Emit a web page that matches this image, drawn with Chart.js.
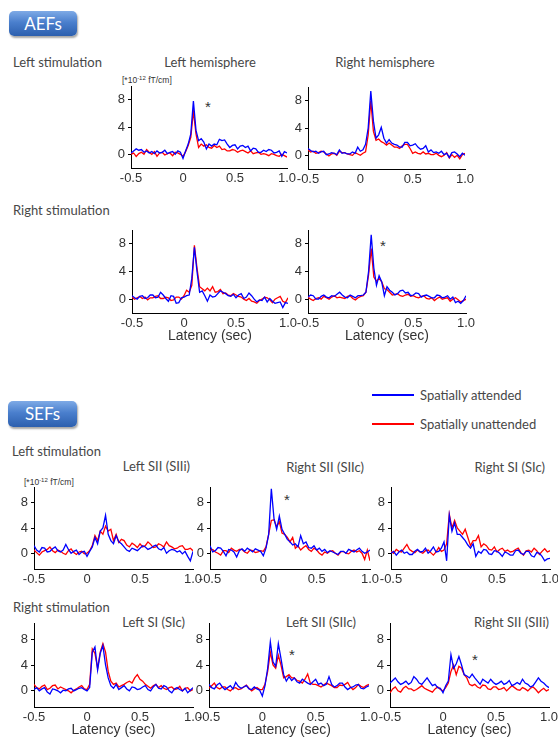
<!DOCTYPE html>
<html>
<head>
<meta charset="utf-8">
<script src="https://cdn.jsdelivr.net/npm/chart.js@4.4.1/dist/chart.umd.min.js"></script>
<style>
  body { margin: 0; background: #fff; }
  #page { position: relative; width: 558px; height: 739px; overflow: hidden; font-family: Lato, "Noto Sans", sans-serif; color: #474747; }
  #page canvas { position: absolute; }
  .lbl { position: absolute; white-space: nowrap; font-size: 13px; line-height: 1; }
  .unit { font-family: "Liberation Sans", Arial, sans-serif; font-size: 8.5px; color: #333; }
  .unit sup { font-size: 6px; vertical-align: 3px; }
  .star { font-family: "Liberation Sans", Arial, sans-serif; font-size: 15px; color: #333; }
  .badge { position: absolute; border-radius: 5px; color: #fff; font-size: 17px; text-align: center;
           background: linear-gradient(#7eaae6, #4a7fcd 45%, #2c5fae); box-shadow: 1px 2px 2px rgba(0,0,0,0.35); }
  .key { position: absolute; height: 2px; }
</style>
</head>
<body>
<div id="page">
  <div class="badge" style="left:9px;top:11px;width:68px;height:25px;line-height:25px;">AEFs</div>
  <div class="badge" style="left:8px;top:401px;width:69px;height:26px;line-height:26px;">SEFs</div>
  <div class="key" style="left:372px;top:394px;width:42px;background:#0000ff;"></div>
  <div class="key" style="left:372px;top:423px;width:42px;background:#ff0000;"></div>
</div>
<script>
// latency axis (sec), shared by every trace
const latency = [-0.5, -0.475, -0.45, -0.425, -0.4, -0.375, -0.35, -0.325, -0.3, -0.275,
  -0.25, -0.225, -0.2, -0.175, -0.15, -0.125, -0.1, -0.075, -0.05, -0.025,
  0, 0.025, 0.05, 0.075, 0.1, 0.125, 0.15, 0.175, 0.2, 0.225,
  0.25, 0.275, 0.3, 0.325, 0.35, 0.375, 0.4, 0.425, 0.45, 0.475,
  0.5, 0.525, 0.55, 0.575, 0.6, 0.625, 0.65, 0.675, 0.7, 0.725,
  0.75, 0.775, 0.8, 0.825, 0.85, 0.875, 0.9, 0.925, 0.95, 0.975, 1.0];

const xTicks = [-0.5, 0, 0.5, 1.0];
const yTicks = [0, 2, 4, 6, 8, 10];
const yLabels = [0, 4, 8];

// AEFs, left stimulation, left hemisphere
const aefLeftStimLeftAtt = [0.2, 0.5, 0.8, 0.6, 0.7, 0.3, 0.5, 0.2, 0.4, 0.1,
  0.5, 0.2, 0.3, 0.6, 0.1, 0.3, 0.4, 0.0, 0.5, 0.3,
  -0.6, 0.5, 1.5, 3.0, 7.8, 3.5, 2.0, 2.3, 1.8, 0.8,
  1.5, 1.2, 1.5, 1.4, 2.2, 2.0, 2.1, 1.5, 1.0, 1.3,
  1.4, 0.8, 1.2, 1.3, 1.0, 1.2, 0.5, 0.9, 0.8, 0.3,
  0.3, 0.6, 0.4, 0.7, 0.6, 0.2, 0.3, 0.5, -0.3, 0.4, 0.2];
const aefLeftStimLeftUnatt = [0.0, 0.2, -0.3, 0.1, 0.3, 0.0, 0.7, 0.3, 0.0, 0.4,
  -0.3, 0.2, 0.3, -0.1, 0.1, 0.2, -0.2, 0.3, 0.2, 0.0,
  -0.3, 0.4, 1.3, 2.5, 6.3, 3.0, 1.0, 1.5, 1.2, 1.4,
  1.0, 0.9, 1.3, 1.0, 1.2, 0.7, 0.8, 0.5, 0.5, 0.7,
  0.6, 0.3, 0.5, 0.6, 0.4, 0.2, 0.5, 0.1, 0.2, 0.3,
  0.0, 0.1, 0.0, -0.2, 0.1, 0.0, -0.2, -0.3, 0.0, -0.2, -0.4];

// AEFs, left stimulation, right hemisphere
const aefLeftStimRightAtt = [1.0, 0.7, 0.5, 0.6, 0.3, 0.5, 0.6, 0.1, 0.2, 0.4,
  0.3, 0.1, 0.8, 0.3, 0.4, 0.2, 0.2, 0.5, 0.3, 1.2,
  0.6, 0.8, 1.6, 4.0, 9.4, 5.0, 2.5, 3.0, 4.1, 2.5,
  1.8, 2.3, 1.8, 1.6, 1.5, 1.2, 1.2, 1.9, 1.9, 1.4,
  1.5, 1.7, 1.2, 0.9, 1.0, 1.4, 0.5, 0.8, 0.4, 0.5,
  0.3, 0.6, 0.1, 0.3, -0.3, 0.4, 0.5, 0.2, -0.2, 0.3, 0.0];
const aefLeftStimRightUnatt = [0.8, 0.5, 0.6, 0.3, 0.4, 0.6, 0.5, 0.2, -0.1, 0.2,
  0.3, 0.0, 0.6, 0.4, 0.4, 0.2, 0.1, 0.0, 0.4, 0.2,
  0.0, 0.3, 0.5, 3.0, 8.0, 3.5, 2.2, 2.4, 2.0, 1.8,
  1.5, 1.8, 1.5, 1.2, 1.2, 1.0, 1.4, 1.6, 1.6, 1.0,
  0.3, 0.5, 0.3, 0.2, 0.5, 0.2, 0.3, 0.1, 0.1, 0.3,
  0.0, -0.2, 0.0, 0.4, -0.4, 0.1, -0.3, 0.0, -0.5, 0.1, 0.3];

// AEFs, right stimulation, left hemisphere
const aefRightStimLeftAtt = [0.5, 0.2, 0.0, 0.4, 0.5, 0.1, 0.2, 0.6, 0.6, 0.2,
  0.3, 1.0, 0.6, 0.1, -0.3, 0.5, 0.4, -0.6, -0.5, 0.2,
  0.3, 0.5, 0.6, 3.0, 7.5, 4.0, 1.0, 1.2, 0.5, -0.3,
  0.6, 0.3, 0.4, 0.8, 1.2, 1.0, 0.8, 0.5, 0.4, 0.7,
  0.2, 0.6, 0.8, 0.1, 0.3, 0.9, 0.5, 0.0, -0.4, -0.1,
  -0.2, 0.3, -0.4, 0.1, -0.3, -0.6, -0.5, -0.4, -1.2, -0.5, -0.6];
const aefRightStimLeftUnatt = [0.3, 0.0, 0.2, 0.4, 0.1, 0.3, -0.1, 0.2, 0.2, 0.4,
  0.5, 0.1, 0.1, 0.3, 0.2, -0.2, -0.1, 0.3, 0.3, 0.0,
  0.5, 1.3, 1.0, 2.0, 7.8, 4.5, 1.8, 1.5, 1.2, 1.6,
  1.2, 1.8, 1.0, 1.1, 1.4, 0.8, 0.9, 0.6, 0.5, 0.8,
  0.6, 0.4, 0.3, 0.0, -0.2, 0.1, -0.3, -0.4, -0.6, -0.2,
  0.0, 0.3, 0.2, -0.1, -0.5, 0.0, 0.2, 0.4, -0.3, -0.5, 0.2];

// AEFs, right stimulation, right hemisphere
const aefRightStimRightAtt = [0.3, 0.6, 0.5, 0.0, 0.0, 0.4, 0.6, 0.3, 0.2, 0.5,
  0.4, 0.7, 1.0, 0.6, 0.3, 0.2, 0.6, 0.4, 0.2, 0.5,
  0.5, 0.6, 1.0, 4.0, 9.3, 4.5, 2.0, 3.4, 2.5, 0.5,
  1.8, 1.3, 1.0, 0.6, 0.8, 1.2, 1.3, 0.9, 1.0, 0.5,
  0.6, 0.9, 0.8, 0.3, 0.5, 0.6, 0.4, 0.2, 0.2, 0.6,
  0.5, 0.2, 0.3, 0.5, 0.0, 0.3, -0.5, -0.3, -0.6, -0.2, 0.5];
const aefRightStimRightUnatt = [0.3, 0.0, -0.2, 0.1, 0.2, 0.0, 0.4, 0.2, 0.0, 0.3,
  0.5, 0.2, 0.3, 0.2, 0.1, 0.4, 0.5, 0.1, -0.1, 0.2,
  0.4, 0.5, 1.0, 3.5, 7.3, 3.2, 2.6, 3.0, 2.5, 1.5,
  1.4, 1.0, 0.6, 0.7, 0.8, 0.5, 0.4, 0.6, 0.7, 0.4,
  0.5, 0.3, 0.2, 0.4, 0.5, 0.1, 0.0, 0.2, -0.2, 0.1,
  0.3, 0.0, 0.1, 0.2, -0.3, 0.0, 0.2, -0.1, -0.4, -0.2, 0.0];

// SEFs, left stimulation: Left SII (SIIi), Right SII (SIIc), Right SI (SIc)
const sefLeftStimSIIiAtt = [1.2, 0.5, 0.2, 0.9, 0.8, 0.2, 0.3, 0.7, 1.0, 0.4,
  0.2, 0.5, 1.4, 0.6, 0.0, 0.3, 0.5, -0.2, 0.2, 0.3,
  -0.5, 0.3, 1.0, 2.5, 1.5, 3.5, 4.0, 6.0, 3.0, 2.0,
  1.5, 2.8, 1.8, 1.5, 1.0, 0.5, 0.3, 0.8, 0.6, 0.4,
  0.8, 1.2, 1.0, 0.6, 0.8, 1.1, 1.3, 0.7, 0.5, 0.9,
  0.0, 0.4, 0.6, 0.5, 0.2, 0.4, -0.1, 0.3, -0.5, -1.2, 0.3];
const sefLeftStimSIIiUnatt = [0.5, 0.1, -0.3, 0.2, 0.4, 0.6, 1.0, 0.4, 0.1, 0.5,
  0.3, 0.0, -0.2, 0.4, 0.7, 0.1, -0.2, 0.2, 0.3, -0.1,
  0.0, 0.4, 1.2, 2.8, 2.0, 3.5, 3.0, 4.3, 3.5, 3.8,
  2.0, 3.0, 1.7, 2.2, 2.0, 1.3, 1.0, 1.6, 1.3, 0.9,
  1.5, 1.0, 1.2, 1.8, 1.4, 0.9, 1.0, 1.5, 1.3, 1.0,
  1.8, 1.2, 1.0, 0.7, 0.8, 1.1, 1.2, 0.6, 0.6, 0.8, 0.4];

const sefLeftStimSIIcAtt = [1.2, 0.2, 0.4, 0.9, 0.8, 0.3, -0.4, 0.6, 0.5, 0.2,
  -0.6, 0.4, 0.7, 0.3, 0.8, 0.5, 0.2, 0.7, 0.5, 0.3,
  -0.4, 0.8, 3.0, 10.2, 5.5, 3.8, 5.9, 3.8, 3.0, 2.2,
  1.8, 1.3, 1.5, 1.0, 2.8, 1.5, 1.8, 0.9, 0.8, 1.2,
  0.5, 0.8, 0.3, 0.6, 0.1, 0.4, 0.2, 0.0, -0.2, 0.3,
  0.3, 0.0, 0.6, 0.4, 0.2, 0.5, 0.8, 0.3, 0.0, 0.2, 0.5];
const sefLeftStimSIIcUnatt = [0.5, 0.6, 0.2, 0.0, -0.3, 0.4, 0.4, 0.1, 0.8, 0.5,
  0.3, 0.6, 0.6, 0.2, 0.0, 0.5, 0.4, 0.1, 0.2, 0.4,
  0.3, 1.0, 3.0, 5.2, 5.3, 4.2, 5.0, 3.2, 3.0, 2.5,
  1.8, 2.5, 0.8, 1.2, 0.5, 0.9, 1.2, 0.6, 0.3, 0.8,
  0.5, 0.0, -0.3, 0.2, 0.0, 0.3, 0.4, 0.0, -0.3, 0.2,
  0.3, 0.0, -0.1, 0.3, 0.5, 0.2, 0.4, 0.0, -1.0, 0.5, -1.2];

const sefLeftStimSIcAtt = [0.0, 0.3, -0.3, 0.2, 0.5, 0.0, 0.2, -0.2, -0.2, 0.3,
  0.6, 0.2, 0.3, 0.8, 0.0, 0.4, 1.0, 0.2, 0.3, 0.8,
  1.8, -1.2, 6.0, 3.5, 4.8, 3.0, 3.0, 2.5, 2.0, 1.3,
  0.8, 1.5, -0.5, 0.3, 0.0, 0.6, 0.5, -0.1, -0.2, 0.4,
  0.3, 0.0, -0.5, 0.2, 0.0, -0.3, -0.3, 0.4, 0.5, 0.0,
  -0.2, 0.3, 0.3, -0.4, -0.6, 0.1, 0.0, -0.5, -1.2, -0.9, -0.8];
const sefLeftStimSIcUnatt = [0.3, 0.0, 0.6, 0.3, 0.2, 0.8, 1.4, 0.6, 0.3, 0.1,
  0.5, 0.2, 0.0, 0.4, 0.5, 0.1, -0.3, 0.2, 0.9, 0.3,
  0.5, 1.5, 6.2, 4.0, 5.2, 4.0, 3.5, 3.0, 3.8, 2.5,
  1.2, 2.0, 2.0, 2.8, 1.0, 1.5, 1.2, 0.6, 0.5, 1.0,
  0.2, 0.6, 0.8, 0.3, 0.5, 0.2, 0.3, 0.6, 0.8, 0.1,
  -0.3, 0.4, 0.5, 0.2, 0.8, 0.4, -0.2, 0.3, 0.7, 0.2, 0.4];

// SEFs, right stimulation: Left SI (SIc), Left SII (SIIc), Right SII (SIIi)
const sefRightStimSIcAtt = [0.2, 0.5, 0.0, 0.3, 0.5, -0.2, -0.5, 0.3, 0.2, 0.0,
  -0.3, 0.1, 0.0, 0.3, 0.4, 0.0, 0.2, 0.4, 0.5, 0.2,
  0.0, 0.5, 6.0, 6.8, 3.2, 5.8, 7.0, 4.0, 2.0, 0.8,
  0.4, 1.0, 0.2, 0.5, 0.8, 0.3, 0.0, 0.6, 0.5, 0.2,
  0.3, 0.6, 0.8, 0.2, 0.0, 0.6, 1.0, 0.4, 0.3, 0.8,
  0.6, 0.0, -0.3, 0.3, 0.5, 0.2, 0.0, 0.4, -0.3, 0.1, 0.5];
const sefRightStimSIcUnatt = [1.0, 0.5, 0.3, 0.7, 0.9, 0.2, 0.4, 0.8, 0.9, 0.3,
  0.6, 0.4, 0.2, 0.0, -0.3, 0.1, 0.3, 0.6, 0.8, 0.3,
  0.2, 1.0, 6.5, 5.8, 3.5, 6.0, 7.3, 6.0, 3.0, 1.5,
  1.0, 1.2, 0.6, 0.8, 1.0, 1.3, 1.5, 1.2, 2.0, 2.5,
  1.8, 1.5, 1.0, 0.7, 0.4, 0.8, 1.0, 0.5, 0.8, 0.4,
  0.2, 0.5, 0.6, 0.2, 0.3, 0.7, 0.0, 0.4, 0.5, 0.0, 0.2];

const sefRightStimSIIcAtt = [1.0, 0.5, 0.3, 0.9, 1.2, 0.6, 0.2, 0.5, 0.8, 0.3,
  1.3, 0.7, 0.4, 0.6, 0.8, 0.3, 0.2, 0.6, 0.3, 0.1,
  -0.8, 0.8, 3.5, 7.6, 4.5, 3.8, 7.3, 5.0, 2.5, 1.5,
  2.2, 1.6, 2.0, 1.4, 1.2, 1.8, 1.5, 1.2, 1.0, 1.4,
  1.8, 1.0, 1.2, 0.8, 1.0, 2.2, 1.0, 0.6, 0.8, 1.2,
  1.2, 0.6, 0.2, 0.5, 0.6, 0.9, 1.0, 0.4, 0.3, 0.6, 0.8];
const sefRightStimSIIcUnatt = [0.4, 0.8, 1.2, 0.5, 0.3, 0.6, 0.6, 0.2, 0.0, 0.4,
  0.5, 0.2, 0.3, 0.6, 0.9, 0.4, 0.0, 0.3, 0.5, 0.2,
  0.2, 1.0, 3.0, 6.0, 4.0, 3.5, 5.5, 4.0, 2.0, 2.2,
  2.5, 2.0, 2.0, 1.6, 1.5, 1.2, 1.8, 2.6, 1.2, 1.0,
  1.0, 0.8, 0.6, 0.9, 1.2, 1.0, 0.8, 0.5, 0.5, 0.9,
  0.8, 1.0, 1.3, 0.6, 0.2, 0.5, 1.0, 0.7, 0.5, 0.8, 1.0];

const sefRightStimSIIiAtt = [1.2, 1.6, 2.0, 1.4, 1.0, 1.2, 1.5, 1.0, 1.3, 2.2,
  1.8, 1.2, 1.0, 1.5, 2.0, 1.4, 0.8, 1.0, 0.5, 0.4,
  -0.3, 0.8, 1.5, 5.6, 3.5, 4.2, 5.3, 4.0, 2.5, 2.3,
  2.0, 2.6, 2.0, 1.5, 1.0, 1.8, 1.5, 1.2, 1.8, 1.3,
  1.0, 1.2, 1.5, 1.0, 1.2, 1.6, 0.8, 1.0, 1.3, 1.0,
  1.8, 1.2, 1.0, 0.6, 0.8, 1.4, 2.0, 1.5, 1.2, 0.8, 0.5];
const sefRightStimSIIiUnatt = [-0.3, 0.3, 0.6, 0.0, -0.2, 0.4, 0.7, 0.3, 0.3, 0.0,
  0.2, 0.5, 0.8, 0.4, 0.2, 0.0, -0.2, 0.3, 0.6, 0.2,
  0.0, 0.5, 1.2, 3.0, 4.0, 2.5, 3.8, 3.5, 2.5, 2.0,
  1.0, 0.8, 1.0, 0.6, 0.4, 0.9, 0.8, 0.3, 0.2, 0.6,
  0.6, 0.2, 0.3, 0.5, 0.0, 0.4, 0.8, 0.5, 0.2, 0.1,
  0.5, 0.3, 0.0, 0.4, 0.6, 0.2, -0.3, 0.1, 0.4, 0.0, 0.2];

// plot boxes (axis lines) in page pixels
const panels = [
  { box: [131, 86, 287, 168], att: aefLeftStimLeftAtt, unatt: aefLeftStimLeftUnatt, y: [-2, 10] },
  { box: [308, 87, 465, 169], att: aefLeftStimRightAtt, unatt: aefLeftStimRightUnatt, y: [-2, 10] },
  { box: [132, 230, 288, 313], att: aefRightStimLeftAtt, unatt: aefRightStimLeftUnatt, y: [-2, 10], xTitle: true },
  { box: [308, 230, 466, 313], att: aefRightStimRightAtt, unatt: aefRightStimRightUnatt, y: [-2, 10], xTitle: true },
  { box: [34, 487, 193, 569], att: sefLeftStimSIIiAtt, unatt: sefLeftStimSIIiUnatt, y: [-2.5, 10.5] },
  { box: [210, 487, 370, 569], att: sefLeftStimSIIcAtt, unatt: sefLeftStimSIIcUnatt, y: [-2.5, 10.5] },
  { box: [391, 487, 550, 569], att: sefLeftStimSIcAtt, unatt: sefLeftStimSIcUnatt, y: [-2.5, 10.5] },
  { box: [34, 623, 193, 707], att: sefRightStimSIcAtt, unatt: sefRightStimSIcUnatt, y: [-2.5, 10.5], xTitle: true },
  { box: [209, 623, 369, 707], att: sefRightStimSIIcAtt, unatt: sefRightStimSIIcUnatt, y: [-2.5, 10.5], xTitle: true },
  { box: [390, 623, 549, 707], att: sefRightStimSIIiAtt, unatt: sefRightStimSIIiUnatt, y: [-2.5, 10.5], xTitle: true }
];

// text: [html, x, centre y, align, class]
const texts = [
  ['Left stimulation', 13, 62, 'left'],
  ['Left hemisphere', 210, 62, 'center'],
  ['Right hemisphere', 385, 62, 'center'],
  ['[*10<sup>-12</sup> fT/cm]', 122, 80, 'left', 'unit'],
  ['Right stimulation', 13, 210, 'left'],
  ['Spatially attended', 420, 395, 'left'],
  ['Spatially unattended', 420, 424, 'left'],
  ['Left stimulation', 12, 451, 'left'],
  ['Left SII (SIIi)', 190, 466, 'right'],
  ['Right SII (SIIc)', 364, 467, 'right'],
  ['Right SI (SIc)', 545, 467, 'right'],
  ['[*10<sup>-12</sup> fT/cm]', 24, 482, 'left', 'unit'],
  ['Right stimulation', 13, 607, 'left'],
  ['Left SI (SIc)', 185, 622, 'right'],
  ['Left SII (SIIc)', 356, 622, 'right'],
  ['Right SII (SIIi)', 549, 622, 'right'],
  ['*', 208, 106, 'center', 'star'],
  ['*', 383, 245, 'center', 'star'],
  ['*', 287, 499, 'center', 'star'],
  ['*', 292, 654, 'center', 'star'],
  ['*', 475, 659, 'center', 'star']
];

const page = document.getElementById('page');

texts.forEach(([html, x, y, align, cls]) => {
  const d = document.createElement('div');
  d.className = 'lbl' + (cls ? ' ' + cls : '');
  d.innerHTML = html;
  const tx = align === 'center' ? '-50%' : align === 'right' ? '-100%' : '0';
  d.style.left = x + 'px';
  d.style.top = y + 'px';
  d.style.transform = `translate(${tx}, -50%)`;
  page.appendChild(d);
});

const tickFont = { family: '"Liberation Sans", Arial, sans-serif', size: 13 };

function toXY(values) {
  return values.map((v, i) => ({ x: latency[i], y: v }));
}

function drawPanel(p) {
  const [l, t, r, b] = p.box;
  const padL = 26, padT = 8, padR = 14;
  const xH = p.xTitle ? 32 : 22;
  const canvas = document.createElement('canvas');
  canvas.width = r - l + padL + padR;
  canvas.height = b - t + padT + xH;
  canvas.style.left = (l - padL) + 'px';
  canvas.style.top = (t - padT) + 'px';
  page.appendChild(canvas);

  new Chart(canvas, {
    type: 'line',
    data: {
      datasets: [
        { label: 'Spatially attended', data: toXY(p.att), borderColor: '#0000ff' },
        { label: 'Spatially unattended', data: toXY(p.unatt), borderColor: '#ff0000' }
      ]
    },
    options: {
      responsive: false,
      animation: false,
      devicePixelRatio: 1,
      layout: { padding: { top: padT, right: padR, left: 0, bottom: 0 } },
      plugins: { legend: { display: false }, tooltip: { enabled: false } },
      elements: { point: { radius: 0 }, line: { borderWidth: 1.3, tension: 0 } },
      scales: {
        x: {
          type: 'linear', min: -0.5, max: 1.0,
          grid: { drawOnChartArea: false, drawTicks: false },
          border: { color: '#000', width: 1 },
          ticks: { font: tickFont, color: '#333', padding: 3, autoSkip: false, maxRotation: 0,
                   callback: v => v === 0 ? '0' : v.toFixed(1) },
          title: { display: !!p.xTitle, text: 'Latency (sec)', color: '#333',
                   font: { family: '"Liberation Sans", Arial, sans-serif', size: 14 }, padding: 0 },
          afterBuildTicks: s => { s.ticks = xTicks.map(v => ({ value: v })); },
          afterFit: s => { s.height = xH; s.paddingLeft = 0; s.paddingRight = 0; }
        },
        y: {
          min: p.y[0], max: p.y[1],
          grid: { drawOnChartArea: false, tickLength: 3, color: '#000' },
          border: { color: '#000', width: 1 },
          ticks: { font: tickFont, color: '#333', padding: 3,
                   callback: v => yLabels.includes(v) ? String(v) : '' },
          afterBuildTicks: s => { s.ticks = yTicks.map(v => ({ value: v })); },
          afterFit: s => { s.width = padL; s.paddingTop = 0; s.paddingBottom = 0; }
        }
      }
    }
  });
}

panels.forEach(drawPanel);
</script>
</body>
</html>
